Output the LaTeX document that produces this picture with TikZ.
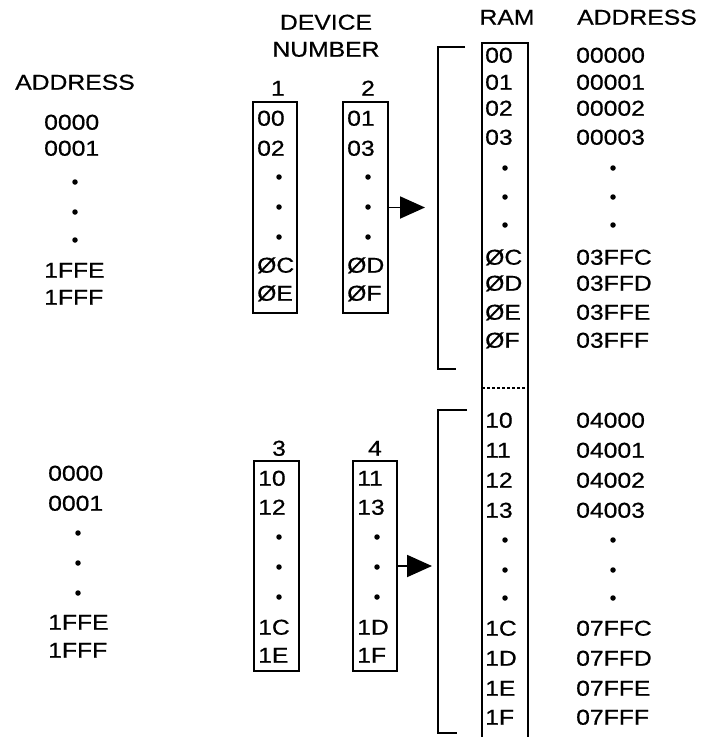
\documentclass[tikz,border=0pt]{standalone}
\usepackage{fontspec}
\setmainfont{Liberation Sans}[FakeStretch=1.15, FakeBold=0.6]
\usetikzlibrary{arrows.meta}
\tikzset{
  cell/.style     = {anchor=west, inner sep=0pt, text height=15.4pt,
                     text depth=0pt, font=\fontsize{21.5}{23}\selectfont},
  head/.style     = {cell, anchor=center},
  dotmark/.style  = {circle, fill=black, minimum size=5.5pt, inner sep=0pt},
  devbox/.style   = {draw, line width=1.8pt, minimum width=45pt,
                     minimum height=211pt, inner sep=0pt},
  bracket/.style  = {draw, line width=1.9pt},
  maparrow/.style = {line width=1.9pt, -{Triangle[length=25pt, width=22pt]}},
}

\begin{document}
\begin{tikzpicture}[x=1pt, y=-1pt]
  \useasboundingbox (0,0) rectangle (701,737);
  % headings
  \node[head] (hAddrL) at (75,82)  {ADDRESS};
  \node[head] (hDev)   at (326,22) {DEVICE};
  \node[head] (hNum)   at (326,49) {NUMBER};
  \node[head] (hRam)   at (507,17) {RAM};
  \node[head] (hAddrR) at (637,17) {ADDRESS};
  \node[head] (n1) at (278,88)  {1};
  \node[head] (n2) at (368,88)  {2};
  \node[head] (n3) at (279,448) {3};
  \node[head] (n4) at (375,448) {4};
  % device boxes
  \node[devbox, minimum width=44pt] (dev1) at (275,207.5) {};
  \node[devbox] (dev2) at (365.5,207.5) {};
  \node[devbox, minimum height=210pt] (dev3) at (276.5,566) {};
  \node[devbox, minimum width=44pt, minimum height=210pt] (dev4) at (375,566) {};
  % device addresses (left)
  \foreach \t/\y [count=\i] in {0000/122, 0001/148, 1FFE/270, 1FFF/297}
    \node[cell] (la\i) at (44,\y) {\t};
  \foreach \t/\y [count=\i] in {0000/473, 0001/503, 1FFE/622, 1FFF/650}
    \node[cell] (lb\i) at (48,\y) {\t};
  \foreach \y [count=\i] in {182, 212, 240}
    \node[dotmark] (lad\i) at (75,\y) {};
  \foreach \y [count=\i] in {533, 563, 593}
    \node[dotmark] (lbd\i) at (78,\y) {};
  % device contents
  \foreach \a/\b/\y [count=\i] in {00/01/118, 02/03/148, ØC/ØD/265, ØE/ØF/293} {
    \node[cell] (d1t\i) at (257,\y) {\a};
    \node[cell] (d2t\i) at (347,\y) {\b};
  }
  \foreach \a/\b/\y [count=\i] in {10/11/478, 12/13/507, 1C/1D/627, 1E/1F/655} {
    \node[cell] (d3t\i) at (258,\y) {\a};
    \node[cell] (d4t\i) at (357,\y) {\b};
  }
  \foreach \y [count=\i] in {177, 207, 237} {
    \node[dotmark] (d1d\i) at (279,\y) {};
    \node[dotmark] (d2d\i) at (368,\y) {};
  }
  \foreach \y [count=\i] in {537, 567, 597} {
    \node[dotmark] (d3d\i) at (279,\y) {};
    \node[dotmark] (d4d\i) at (377,\y) {};
  }
  % RAM column
  \draw[bracket] (482,737) -- (482,43) -- (528,43) -- (528,737);
  \draw[line width=1.2pt, dash pattern=on 3pt off 2pt] (482,388) -- (528,388);
  \foreach \r/\a/\y [count=\i] in {00/00000/55, 01/00001/82, 02/00002/108,
      03/00003/137, ØC/03FFC/257, ØD/03FFD/283, ØE/03FFE/312, ØF/03FFF/340,
      10/04000/420, 11/04001/450, 12/04002/480, 13/04003/510,
      1C/07FFC/628, 1D/07FFD/658, 1E/07FFE/688, 1F/07FFF/717} {
    \node[cell] (rt\i) at (485,\y) {\r};
    \node[cell] (ra\i) at (576,\y) {\a};
  }
  \foreach \y [count=\i] in {168, 197, 225, 540, 570, 598} {
    \node[dotmark] (rd\i) at (505,\y) {};
    \node[dotmark] (ad\i) at (613,\y) {};
  }
  % brackets and arrows
  \draw[bracket] (465,47) -- (438,47) -- (438,369) -- (456,369);
  \draw[bracket] (467,410) -- (438,410) -- (438,733) -- (457,733);
  \coordinate (in1) at (425,207.5);
  \coordinate (in2) at (432,566);
  \draw[maparrow] (dev2.east) -- (in1);
  \draw[maparrow] (dev4.east) -- (in2);
\end{tikzpicture}
\end{document}
